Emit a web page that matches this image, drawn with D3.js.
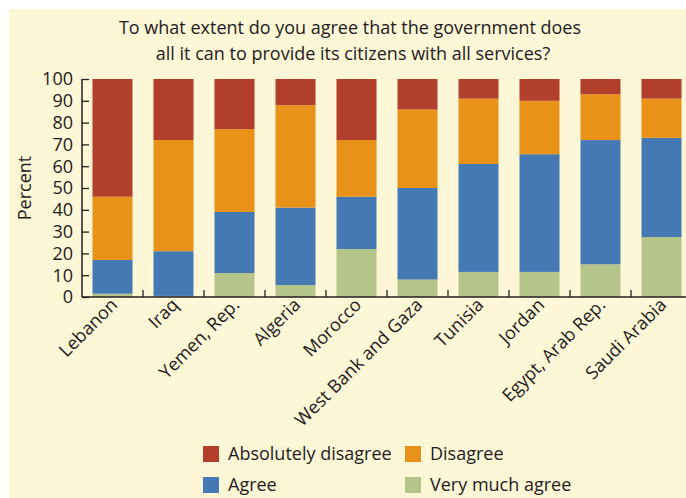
<!DOCTYPE html>
<html><head><meta charset="utf-8">
<script src="https://cdn.jsdelivr.net/npm/d3@7"></script>
<style>
html,body{margin:0;padding:0;background:#fff;}
text{font-family:"Open Sans","Noto Sans",sans-serif;fill:#1f1b1c;}
</style></head>
<body>
<svg id="c" width="686" height="498"></svg>
<script>
const categories = ["Lebanon","Iraq","Yemen, Rep.","Algeria","Morocco","West Bank and Gaza","Tunisia","Jordan","Egypt, Arab Rep.","Saudi Arabia"];
const veryMuchAgree = [1.5, 0.5, 11, 5.5, 22, 8, 11.5, 11.5, 15, 27.5];
const agree         = [15.5, 20.5, 28, 35.5, 24, 42, 49.5, 54, 57, 45.5];
const disagree      = [29, 51, 38, 47, 26, 36, 30, 24.5, 21, 18];
const absDisagree   = [54, 28, 23, 12, 28, 14, 9, 10, 7, 9];
const yTicks = [0,10,20,30,40,50,60,70,80,90,100];
const seriesNames = ["Very much agree","Agree","Disagree","Absolutely disagree"];
const colors = {"Absolutely disagree":"#b23f2c","Disagree":"#e8921a","Agree":"#4579b3","Very much agree":"#b5c48a"};

const svg = d3.select("#c");
svg.append("rect").attr("x",9).attr("y",9).attr("width",686-9).attr("height",498-9).attr("fill","#fdf7d7");

const table = categories.map((c,i)=>({cat:c,"Very much agree":veryMuchAgree[i],"Agree":agree[i],"Disagree":disagree[i],"Absolutely disagree":absDisagree[i]}));
const stack = d3.stack().keys(seriesNames)(table);

const x = d3.scaleBand().domain(categories).range([82,692]).paddingInner(0.344).paddingOuter(0.172);
const y = d3.scaleLinear().domain([0,100]).range([297,79]);

svg.append("g").selectAll("g").data(stack).join("g")
  .attr("fill",d=>colors[d.key])
  .selectAll("rect").data(d=>d).join("rect")
  .attr("x",d=>x(d.data.cat)).attr("width",x.bandwidth())
  .attr("y",d=>y(Math.min(100,d[1]))).attr("height",d=>y(d[0])-y(Math.min(100,d[1])));

// y axis
const ya = svg.append("g").attr("transform","translate(82,0)")
  .call(d3.axisRight(y).tickValues(yTicks).tickSize(7).tickFormat(""));
ya.select(".domain").attr("d","M0,79V297").attr("stroke","#231f20").attr("stroke-width",1.5);
ya.selectAll(".tick line").attr("stroke","#231f20").attr("stroke-width",1.3);
svg.append("g").selectAll("text").data(yTicks).join("text")
  .attr("x",73).attr("y",d=>y(d)).attr("dy","0.36em").attr("text-anchor","end")
  .style("font-size","18px").text(d=>d);

// x axis
svg.append("line").attr("x1",82).attr("x2",686).attr("y1",297).attr("y2",297).attr("stroke","#231f20").attr("stroke-width",1.5);
const boundaries = categories.slice(1).map(c=>x(c)-x.step()*x.paddingInner()/2);
svg.append("g").selectAll("line").data(boundaries).join("line")
  .attr("x1",d=>d).attr("x2",d=>d).attr("y1",297).attr("y2",290).attr("stroke","#231f20").attr("stroke-width",1.3);
svg.append("g").selectAll("text").data(categories).join("text")
  .attr("transform",d=>`translate(${x(d)+x.bandwidth()/2+6},${306}) rotate(-45)`)
  .attr("text-anchor","end").style("font-size","18px").text(d=>d);

// y label
svg.append("text").attr("transform","translate(31,188) rotate(-90)").attr("text-anchor","middle")
  .style("font-size","18px").text("Percent");

// title
svg.append("text").attr("x",350).attr("y",34).attr("text-anchor","middle").style("font-size","18px")
  .text("To what extent do you agree that the government does");
svg.append("text").attr("x",353).attr("y",60).attr("text-anchor","middle").style("font-size","18px")
  .text("all it can to provide its citizens with all services?");

// legend
const legendItems = [
  {name:"Absolutely disagree",x:203,y:446},
  {name:"Disagree",x:405,y:446},
  {name:"Agree",x:203,y:477},
  {name:"Very much agree",x:405,y:477}
];
const lg = svg.append("g").selectAll("g").data(legendItems).join("g").attr("transform",d=>`translate(${d.x},${d.y})`);
lg.append("rect").attr("width",16).attr("height",16).attr("fill",d=>colors[d.name]);
lg.append("text").attr("x",25).attr("y",14).style("font-size","18px").text(d=>d.name);
</script>
</body></html>
